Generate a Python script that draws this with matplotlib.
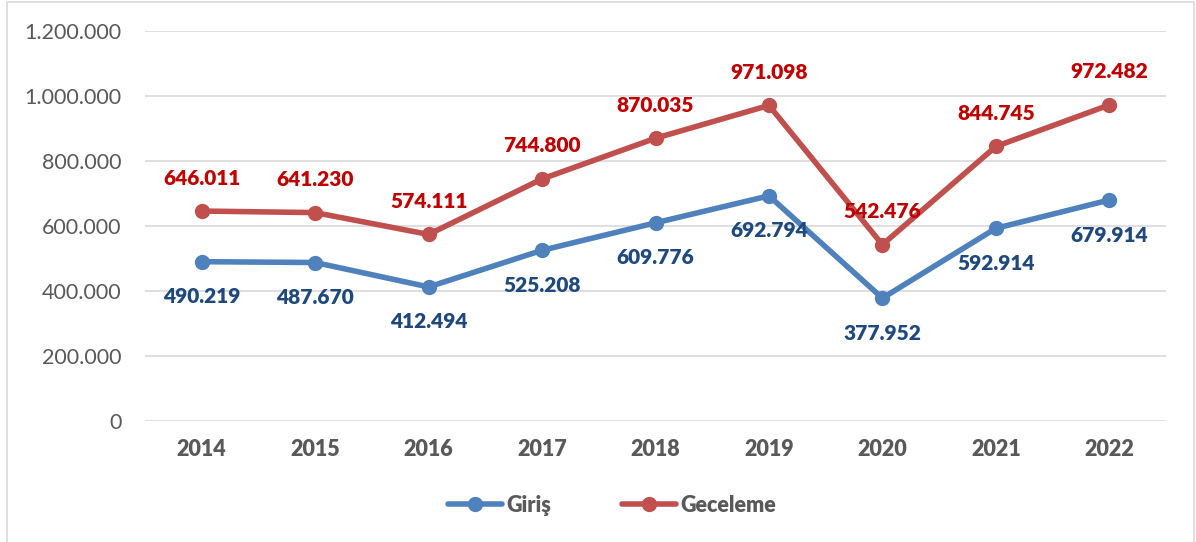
import matplotlib
matplotlib.use("Agg")
import matplotlib.pyplot as plt
from matplotlib.ticker import FuncFormatter
from matplotlib.patches import Rectangle

years = ["2014", "2015", "2016", "2017", "2018", "2019", "2020", "2021", "2022"]
giris = [490219, 487670, 412494, 525208, 609776, 692794, 377952, 592914, 679914]
geceleme = [646011, 641230, 574111, 744800, 870035, 971098, 542476, 844745, 972482]

plt.rcParams['font.family'] = ['Lato', 'DejaVu Sans']

fig = plt.figure(figsize=(11.96, 5.42), dpi=100)
ax = fig.add_axes([145/1196, 1-421/542, (1166-145)/1196, 390/542])

fig.patches.append(Rectangle((7/1196, -0.01), (1194-7)/1196, 1-2/542+0.01,
                             transform=fig.transFigure, fill=False,
                             edgecolor='#d9d9d9', linewidth=1.2))

x = list(range(len(years)))
blue, red = '#4F81BD', '#C0504D'
ax.plot(x, giris, color=blue, lw=4, marker='o', ms=10, label='Giriş', solid_capstyle='round')
ax.plot(x, geceleme, color=red, lw=4, marker='o', ms=10, label='Geceleme', solid_capstyle='round')

def fmt(v):
    return f"{v:,.0f}".replace(",", ".")

for xi, v in zip(x, giris):
    ax.annotate(fmt(v), (xi, v), xytext=(0, -35), textcoords='offset pixels',
                ha='center', va='center', color='#1F497D', fontsize=15, fontweight='heavy')
for xi, v in zip(x, geceleme):
    ax.annotate(fmt(v), (xi, v), xytext=(0, 33), textcoords='offset pixels',
                ha='center', va='center', color='#C00000', fontsize=15, fontweight='heavy')

ax.set_xlim(-0.5, len(years) - 0.5)
ax.set_ylim(0, 1200000)
ax.set_yticks(range(0, 1200001, 200000))
ax.yaxis.set_major_formatter(FuncFormatter(lambda v, p: fmt(v)))
ax.set_xticks(x)
ax.set_xticklabels(years, fontweight='heavy')
ax.grid(axis='y', color='#d9d9d9', lw=1.2)
ax.set_axisbelow(True)
for s in ax.spines.values():
    s.set_visible(False)
ax.tick_params(axis='both', length=0, colors='#595959', labelsize=15.5)
ax.tick_params(axis='x', pad=13)
ax.tick_params(axis='y', pad=17)

leg = fig.legend(loc='center', bbox_to_anchor=(612/1196, 1-505/542), ncol=2, frameon=False,
                 prop={'weight': 'heavy', 'size': 15.5}, handlelength=2.5, columnspacing=3.3,
                 handletextpad=0.2)
for t in leg.get_texts():
    t.set_color('#595959')

fig.savefig('out.png', dpi=100)
